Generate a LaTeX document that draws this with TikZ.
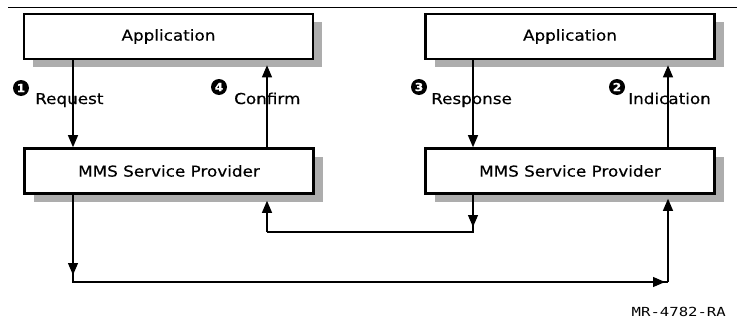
\documentclass[tikz,border=0pt]{standalone}
\usepackage{fontspec}
\setmainfont{DejaVu Sans}[FakeStretch=1.12,FakeBold=0.4]
\newfontfamily\monof{DejaVu Sans Mono}[FakeStretch=1.25]
\usetikzlibrary{arrows.meta,calc,shadows}
\begin{document}
\begin{tikzpicture}[x=1pt,y=-1pt,
  box/.style={draw, line width=2.6pt, fill=white, minimum width=289pt, minimum height=45pt,
    inner sep=0pt, font=\fontsize{15}{17}\selectfont,
    general shadow={shadow xshift=9pt, shadow yshift=-8pt, fill=black!32}},
  ln/.style={line width=1.2pt},
  arr/.style={ln, -{Triangle[length=12pt,width=10pt]}},
  num/.style={circle, fill=black, text=white, inner sep=0pt, minimum size=16pt,
    font=\fontsize{11}{11}\selectfont\bfseries},
  lbl/.style={anchor=base west, inner sep=0pt, font=\fontsize{15}{17}\selectfont}]
\useasboundingbox (0,0) rectangle (737,324);
\draw[line width=1pt] (8,7) -- (737,7);
% boxes
\node[box] (appL) at (168.5,36.5) {Application};
\node[box] (appR) at (570,36.5) {Application};
\node[box] (mmsL) at (169,171) {MMS Service Provider};
\node[box] (mmsR) at (570,171) {MMS Service Provider};
% x positions
\coordinate (xreq) at (73,0);
\coordinate (xcon) at (267,0);
\coordinate (xres) at (473,0);
\coordinate (xind) at (668,0);
% vertical service primitives
\draw[arr] (appL.south -| xreq) -- (mmsL.north -| xreq);
\draw[arr] (mmsL.north -| xcon) -- ($(appL.south -| xcon)+(0,5)$);
\draw[arr] (appR.south -| xres) -- (mmsR.north -| xres);
\draw[arr] (mmsR.north -| xind) -- ($(appR.south -| xind)+(0,5)$);
% labels
\node[num] (n1) at (21,88) {1};
\node[lbl] (l1) at (35,104) {Request};
\node[num] (n4) at (219,87) {4};
\node[lbl] (l4) at (234,104) {Confirm};
\node[num] (n3) at (419,87) {3};
\node[lbl] (l3) at (431,104) {Response};
\node[num] (n2) at (617,87) {2};
\node[lbl] (l2) at (628,104) {Indication};
% lower connections
\coordinate (c1) at (73,282);
\coordinate (c2) at (668,282);
\coordinate (c3) at (473,232);
\coordinate (c4) at (267,232);
\draw[ln] (mmsL.south -| xreq) -- (c1) -- (c2);
\draw[arr] ($(c1)+(0,-16)$) -- ($(c1)+(0,-7)$);
\draw[arr] ($(c2)+(-14,0)$) -- ($(c2)+(-3,0)$);
\draw[arr] (c2) -- ($(mmsR.south -| xind)+(0,4)$);
\draw[ln] (mmsR.south -| xres) -- (c3) -- (c4);
\draw[arr] ($(c3)+(0,-14)$) -- ($(c3)+(0,-5)$);
\draw[arr] (c4) -- ($(mmsL.south -| xcon)+(0,6)$);
\node[anchor=east, inner sep=0pt, font=\monof\fontsize{12.5}{12.5}\selectfont] (ref) at (726,312) {MR-4782-RA};
\end{tikzpicture}
\end{document}
